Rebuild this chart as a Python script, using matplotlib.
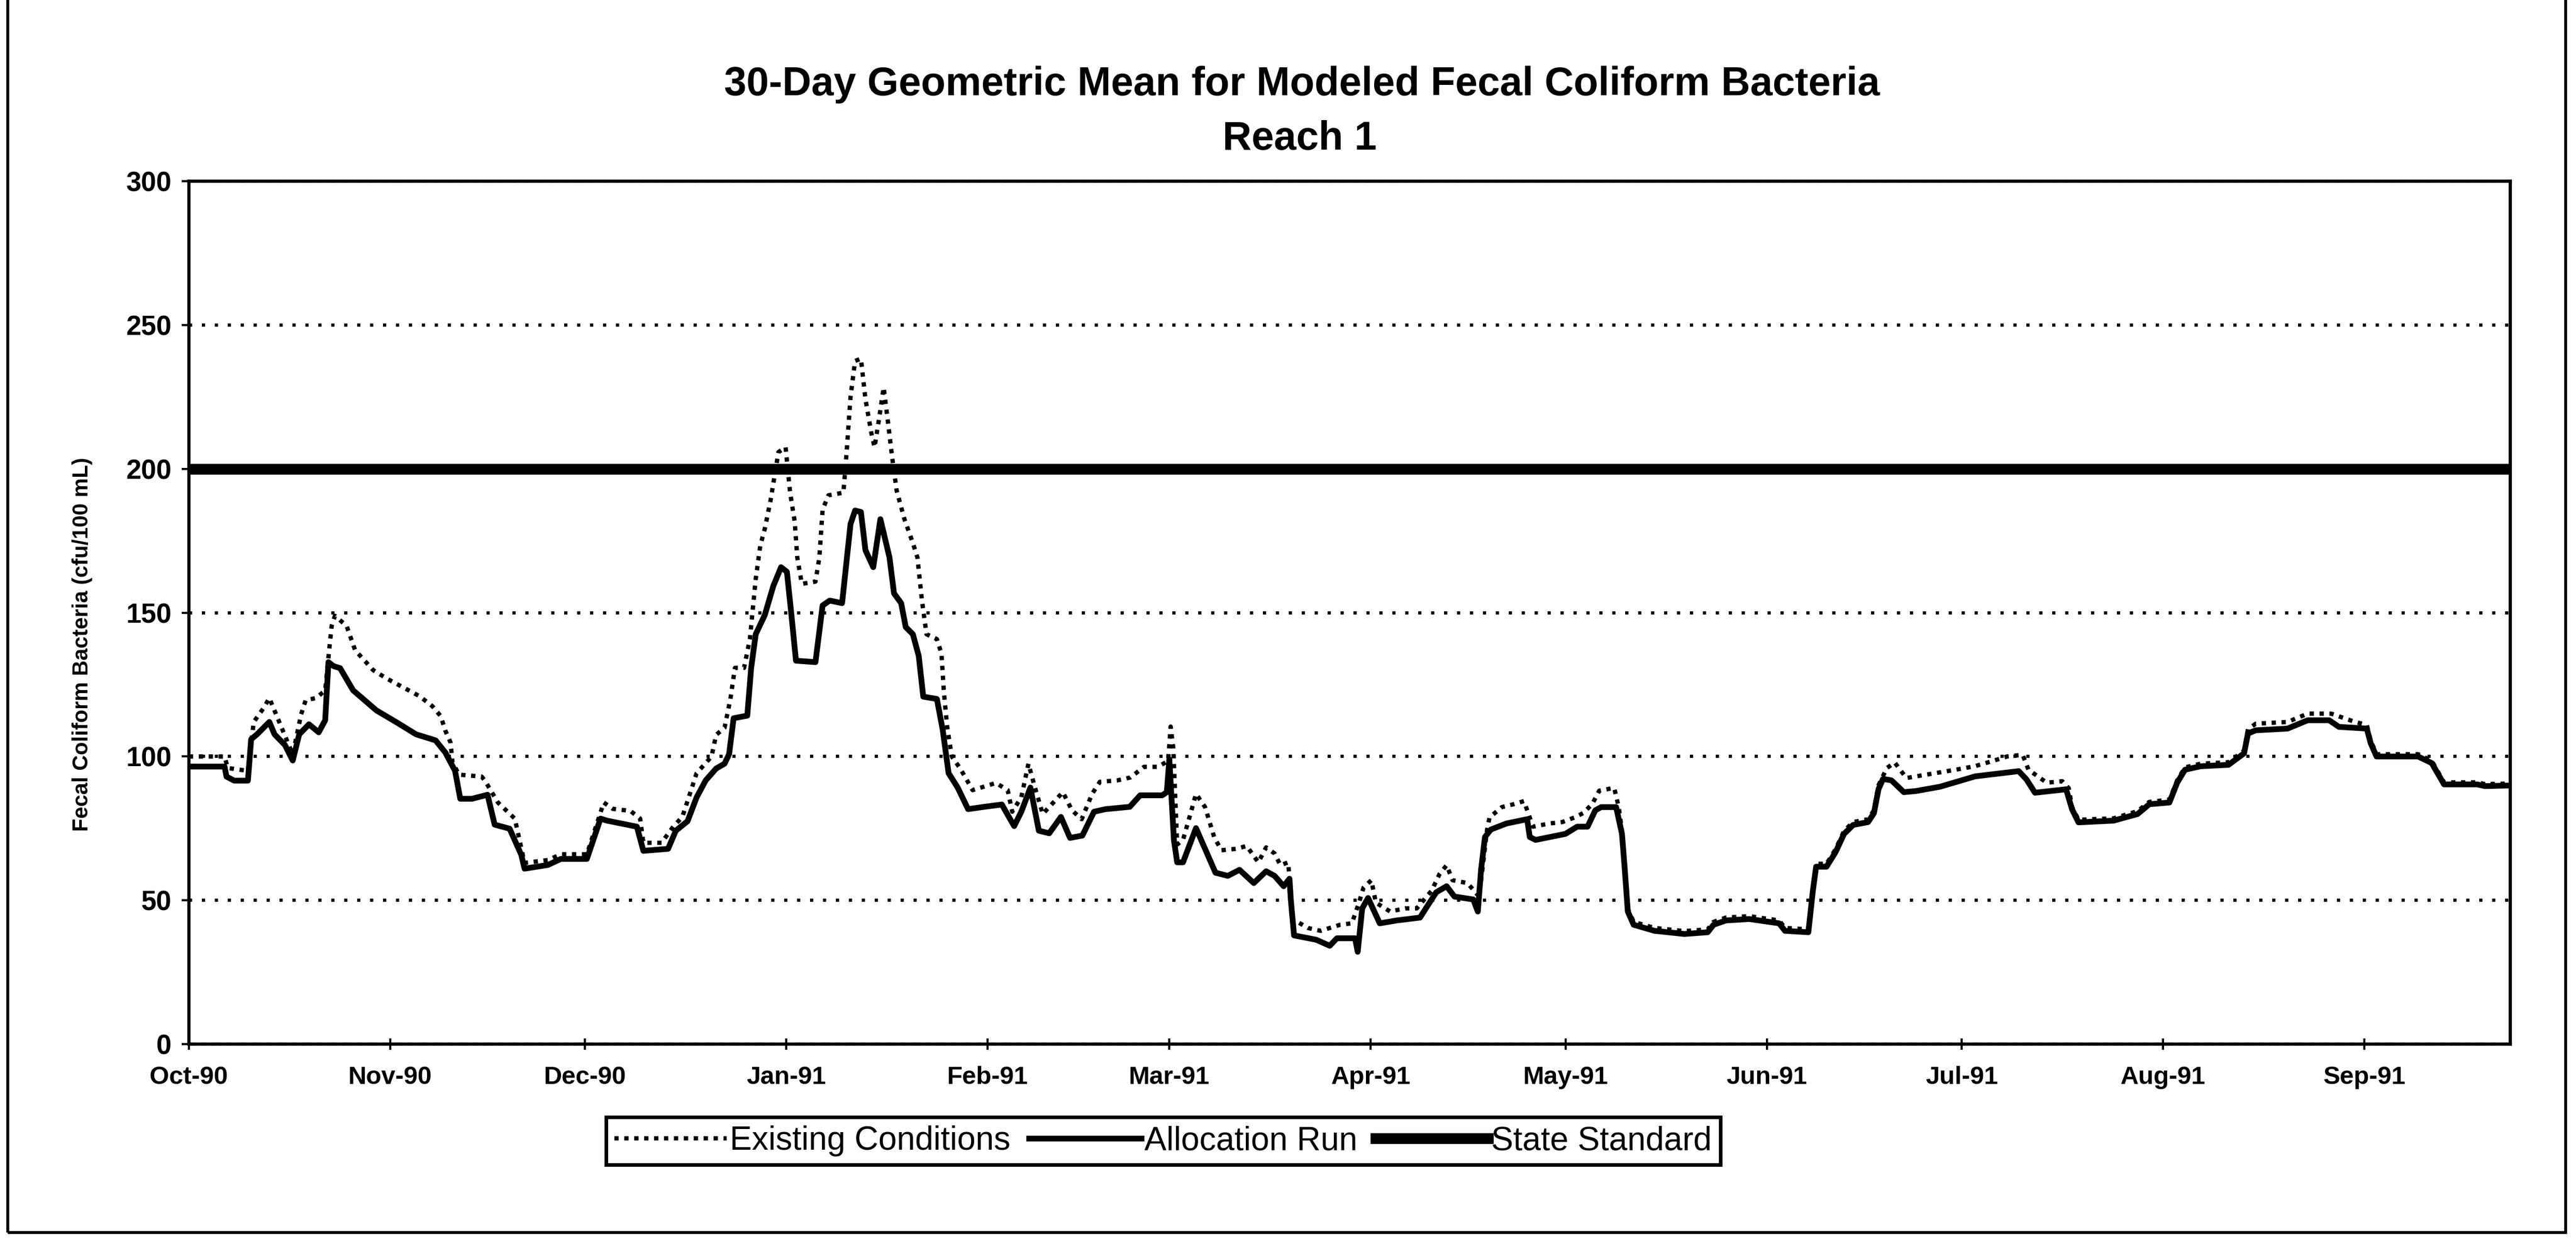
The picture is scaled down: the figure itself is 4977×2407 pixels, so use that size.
import matplotlib
matplotlib.use("Agg")
import matplotlib.pyplot as plt
import matplotlib.dates as mdates
from matplotlib.patches import Rectangle
from datetime import datetime
import numpy as np

# series, x = days after 1 Oct 1990
alloc_day = [0, 5.5, 5.8, 7, 9.1, 9.6, 10.5, 12.4, 13.2, 14.8, 16.0, 17.0, 18.5, 20.0, 21.0,
             21.5, 22.3, 23.3, 25.3, 28.9, 31.9, 35.0, 38.0, 39.5, 41.0, 41.8, 43.6, 46.0, 47.1,
             49.4, 51.2, 51.7, 55.3, 57.3, 61.3, 63.4, 64.4, 69.0, 70.0, 73.8, 75.0, 76.8, 78.2,
             79.6, 81.2, 82.5, 83.2, 83.9, 86.0, 86.6, 87.3, 88.7, 90.0, 91.2, 92.1, 92.8, 93.5,
             96.5, 97.6, 98.7, 100.6, 101.9, 102.6, 103.5, 104.2, 105.4, 106.5, 107.9, 108.6,
             109.7, 110.4, 111.5, 112.4, 113.1, 115.2, 116.1, 117.0, 118.4, 120.0, 122.5, 125.2,
             127.1, 128.2, 129.6, 130.9, 132.5, 134.3, 135.7, 137.6, 139.4, 141.2, 144.9, 146.5,
             149.9, 150.6, 151.0, 151.7, 152.2, 153.1, 155.1, 156.3, 158.1, 160.0, 161.8, 164.0,
             165.9, 167.2, 168.6, 169.5, 169.7, 170.2, 173.6, 175.7, 176.8, 179.6, 180.0, 180.7,
             181.6, 183.4, 186.0, 189.6, 190.5, 192.1, 193.7, 194.9, 197.8, 198.5, 199.0, 199.6,
             200.5, 202.9, 206.1, 206.5, 207.4, 212.0, 213.8, 215.4, 216.6, 217.5, 219.8, 220.7,
             221.1, 221.6, 222.5, 225.7, 230.3, 233.9, 234.8, 236.7, 240.3, 244.9, 245.8, 249.4,
             250.1, 250.6, 252.2, 253.6, 254.9, 256.3, 258.6, 259.5, 260.2, 260.9, 262.2, 264.1,
             266.0, 269.7, 275.1, 281.8, 283.0, 284.3, 289.1, 290.0, 291.0, 296.4, 300.1, 301.9,
             305.0, 306.2, 307.4, 309.8, 314.1, 316.5, 317.1, 318.3, 323.2, 326.3, 329.6, 331.1,
             335.4, 336.0, 336.9, 343.3, 345.4, 347.3, 352.4, 353.6, 357.3]
alloc_val = [96.5, 96.5, 93, 91.6, 91.6, 106, 107.7, 112, 107.7, 104, 98.6, 107.7, 111.2, 108.4, 112.6,
             132.8, 131.4, 130.7, 123, 116, 112, 107.7, 105.6, 101.4, 95, 85.3, 85.3, 86.7, 76.3,
             74.9, 65.8, 61, 62.3, 64.4, 64.4, 78.4, 77.7, 75.6, 67.2, 67.9, 74.2, 77.5, 85.8,
             91.7, 95.8, 97.5, 100.8, 113.3, 114.2, 130.8, 142.5, 149.2, 159.2, 165.8, 164.2, 149.2, 133.3,
             132.8, 152.5, 154.2, 153.3, 180.8, 185.5, 185, 171.7, 165.8, 182.5, 169.2, 156.7,
             153.3, 145, 142.5, 135, 120.8, 120, 109.2, 94.2, 89.2, 81.7, 82.5, 83.3,
             75.8, 80.8, 89.2, 74.2, 73.3, 79, 71.7, 72.5, 80.8, 81.7, 82.5, 86.5,
             86.5, 87.6, 99, 71, 63.2, 63.2, 75.1, 68.9, 59.6, 58.5, 60.6, 56,
             60.1, 58.5, 54.9, 57.5, 50.3, 37.8, 36.3, 34.2, 36.8, 36.8, 32.1, 47.2,
             50.8, 42, 43, 44, 47.2, 52.8, 54.9, 51.3, 50.3, 46.1, 60.6, 72,
             74.6, 76.7, 78.2, 72, 71, 73.1, 75.6, 75.6, 81.3, 82.4, 82.4, 73.1,
             61.7, 46.1, 41.5, 39.4, 38.3, 38.9, 41.5, 43, 43.5, 42, 39.4, 38.9,
             53.4, 61.7, 61.7, 66.8, 73.1, 76.2, 77.2, 80.3, 88.6, 92.2, 91.7, 87.6,
             88, 89.5, 93.1, 94.9, 92, 87.4, 88.6, 81.7, 77.1, 77.7, 80, 83.4,
             84, 90.9, 95.4, 96.6, 97.1, 101.1, 108, 109.1, 109.7, 112.6, 112.6, 110.3,
             109.7, 104.6, 100, 100, 97.7, 90.3, 90.3, 89.7, 89.9]

exist_day = [0, 5.5, 6, 9.1, 10.0, 11.5, 12.4, 14.2, 16.0, 17.3, 18.0, 19.6, 21.0, 21.7, 22.0,
             22.5, 24.3, 25.6, 28.4, 30.4, 35.5, 37.5, 38.8, 39.5, 40.3, 40.6, 41.6, 45.1, 45.6,
             47.6, 50.2, 51.7, 55.3, 57.3, 61.3, 63.9, 65.3, 68.0, 69.5, 70.0, 72.8, 74.6, 76.0,
             78.2, 80.5, 81.2, 82.5, 83.4, 84.1, 85.5, 86.4, 87.3, 88.0, 88.7, 89.6, 90.8, 91.9,
             92.6, 93.3, 93.7, 94.4, 96.5, 97.1, 97.6, 98.5, 100.8, 101.3, 101.9, 102.6, 103.5,
             104.2, 105.1, 105.6, 106.3, 107.0, 107.6, 108.3, 109.0, 110.2, 111.5, 112.2, 112.9,
             113.6, 115.2, 115.9, 116.3, 116.8, 117.5, 118.8, 120.7, 124.3, 126.1, 126.8, 128.2,
             129.3, 130.2, 131.5, 134.6, 136.0, 137.5, 139.1, 140.3, 143.0, 145.0, 147.1, 149.2,
             150.8, 151.2, 151.6, 152.2, 153.1, 154.4, 155.1, 156.5, 157.2, 157.9, 159.0, 161.3,
             162.9, 164.7, 165.9, 167.2, 168.1, 169.3, 170.0, 172.3, 174.3, 177.3, 179.1, 180.2,
             180.9, 182.1, 182.8, 185.0, 187.3, 189.1, 191.4, 192.6, 193.7, 194.6, 196.9, 198.7,
             199.2, 199.9, 200.3, 202.2, 204.0, 205.6, 207.0, 209.5, 211.5, 213.4, 214.7, 216.1,
             217.2, 219.5, 220.2, 220.7, 221.1, 221.6, 222.5, 225.7, 230.3, 233.9, 234.8, 236.7,
             240.3, 244.9, 245.8, 249.4, 250.1, 250.6, 252.2, 253.6, 254.9, 256.3, 258.6, 259.5,
             260.2, 261.5, 262.7, 264.5, 266.0, 272.1, 275.0, 277.6, 280.0, 282.4, 283.3, 286.1,
             288.5, 289.5, 290.0, 291.0, 296.4, 300.1, 301.9, 305.0, 306.2, 307.4, 309.8, 314.1,
             316.5, 317.1, 318.3, 323.2, 326.3, 329.9, 333.6, 335.4, 336.0, 336.9, 343.3, 345.4,
             347.3, 352.4, 353.6, 357.3]
exist_val = [100, 100, 96, 95, 112, 116.8, 120.3, 110.5, 100.7, 114.7, 119.6, 120.3, 123, 139, 145.4,
             148.9, 145.4, 137, 130, 127.2, 121, 117.5, 114, 109, 104.9, 98, 93.7, 93, 91.6,
             84, 78.4, 63, 64, 66, 66, 84, 81.8, 81.1, 78.4, 70, 70, 75.6, 79,
             94.2, 100, 107.5, 110, 120, 130.8, 130.8, 140.8, 161.7, 173.3, 179.2, 189.2, 205.8, 207.5,
             191.7, 181.7, 169.2, 160, 160.8, 169.2, 185.8, 190.8, 191.7, 205.8, 225, 237.5, 238.3,
             224.2, 212.5, 207.5, 217.5, 228.3, 217.5, 204.2, 192.5, 182.5, 174.2, 169.2, 154.2,
             142.5, 140.8, 135.8, 121.7, 110, 100, 95.8, 88.3, 90.8, 88.3, 80.8, 85.8,
             97.5, 90, 80, 87.6, 81.3, 78.2, 87, 91.2, 91.7, 92.7, 96.4, 96.4,
             98.4, 110.4, 103, 69.4, 71, 81.3, 87, 82.4, 77.2, 72, 67.4, 67.9,
             68.9, 63.2, 68.4, 66.3, 62.2, 63.2, 43.5, 40.4, 39.4, 41.5, 42, 49.2,
             54.4, 57, 49.2, 46.1, 47.2, 47.2, 53.4, 59.1, 62.2, 57, 56, 51.3,
             60.6, 74.1, 78.8, 82.4, 83.4, 84.5, 75.6, 76.7, 77.2, 78.8, 80.3, 83.4,
             88.1, 89.1, 82.4, 74, 62.5, 47, 42.5, 40.4, 39.3, 39.9, 42.5, 44,
             44.5, 43, 40.4, 39.9, 54.4, 62.7, 62.7, 67.8, 74.1, 77.2, 78.2, 81.3,
             90, 96, 97.9, 92.5, 93.1, 95.4, 96.6, 98.3, 100, 100.6, 95.4, 90.9,
             91.4, 89, 82.5, 78, 78.5, 81, 84.2, 85, 91.7, 96.2, 97.5, 98,
             102, 109.5, 111.4, 112, 114.9, 114.9, 112, 111, 105.5, 100.8, 100.8, 98.5,
             91, 91, 90.4, 90.6]

standard_val = 200
y_ticks = [0, 50, 100, 150, 200, 250, 300]
series_names = ["Existing Conditions", "Allocation Run", "State Standard"]
title_lines = ["30-Day Geometric Mean for Modeled Fecal Coliform Bacteria", "Reach 1"]
y_label = "Fecal Coliform Bacteria (cfu/100 mL)"

start = mdates.date2num(datetime(1990, 10, 1))
last_day = 357.5

plt.rcParams['font.family'] = ['Liberation Sans', 'DejaVu Sans']

fig = plt.figure(figsize=(49.77, 24.07), dpi=100)
ax = fig.add_axes([0.0733, 0.162, 0.9012, 0.6926])

ax.plot(start + np.array(exist_day), exist_val, color='black', lw=6,
        linestyle=(0, (1, 1.3)), label=series_names[0], zorder=3)
ax.plot(start + np.array(alloc_day), alloc_val, color='black', lw=8,
        solid_joinstyle='round', label=series_names[1], zorder=4)
ax.axhline(standard_val, color='black', lw=15, label=series_names[2], zorder=2)

ax.set_xlim(start, start + last_day)
ax.set_ylim(0, 300)
ax.set_yticks(y_ticks)
ax.yaxis.grid(True, color='black', lw=4.5, linestyle=(0, (1, 3)))
ax.set_axisbelow(True)

ax.xaxis.set_major_locator(mdates.MonthLocator())
ax.xaxis.set_major_formatter(mdates.DateFormatter('%b-%y'))
ax.tick_params(axis='x', direction='inout', length=16, width=3, pad=22, labelsize=35)
ax.tick_params(axis='y', direction='out', length=10, width=3, pad=14, labelsize=38)
for lab in ax.get_xticklabels() + ax.get_yticklabels():
    lab.set_fontweight('bold')

for sp in ax.spines.values():
    sp.set_linewidth(4.5)

fig.text(0.5055, 0.932, title_lines[0], ha='center', va='center', fontsize=56, fontweight='bold')
fig.text(0.5045, 0.8885, title_lines[1], ha='center', va='center', fontsize=56, fontweight='bold')
fig.text(0.032, 0.483, y_label, ha='center', va='center', rotation=90, fontsize=30, fontweight='bold')

leg = ax.legend(loc='center', bbox_to_anchor=(0.4515, 0.0843), bbox_transform=fig.transFigure,
                ncol=3, fontsize=46, frameon=True, fancybox=False, framealpha=1,
                edgecolor='black', handlelength=3.4, handletextpad=0.1, columnspacing=0.55,
                borderpad=0.25)
leg.get_frame().set_linewidth(5)

# outer frame of the pasted chart
fig.patches.append(Rectangle((0.003, 0.0106), 0.993, 1.5, transform=fig.transFigure,
                             fill=False, lw=4, edgecolor='black'))

fig.savefig("out.png", dpi=100, facecolor='white')
